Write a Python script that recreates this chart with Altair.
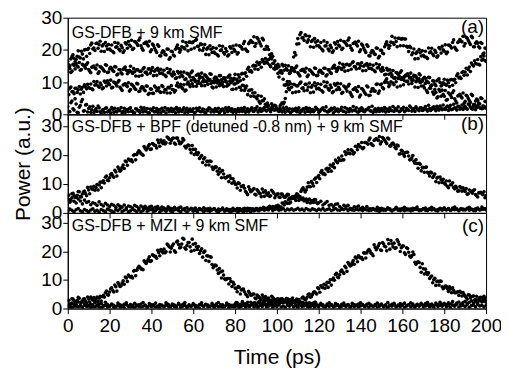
import altair as alt
import pandas as pd

FONT = "Liberation Sans"

# sampling grid (ps)
T = list(range(201))

# ---------- panel (a): GS-DFB + 9 km SMF ----------
A1 = [16.4, 15.1, 17.9, 17.4, 17.0, 19.7, 17.5, 18.7, 20.0, 18.0,
      20.5, 21.5, 20.3, 19.8, 22.1, 21.6, 19.6, 21.7, 22.3, 20.2,
      20.3, 21.5, 19.1, 20.8, 22.1, 19.7, 20.7, 19.7, 21.8, 22.6,
      21.1, 20.1, 22.6, 22.0, 23.0, 21.3, 19.9, 22.2, 21.7, 22.7,
      20.0, 21.4, 19.9, 21.6, 18.2, 19.1, 19.5, 18.4, 20.2, 17.6,
      19.4, 18.1, 20.9, 20.4, 20.0, 22.7, 20.3, 21.3, 22.4, 20.2,
      22.5, 22.9, 21.1, 20.0, 21.7, 20.6, 18.6, 20.7, 21.3, 19.2,
      19.3, 20.5, 18.1, 19.8, 21.1, 18.7, 19.6, 18.5, 20.5, 21.2,
      19.6, 18.7, 21.3, 20.8, 21.9, 20.3, 19.5, 22.4, 22.5, 24.1,
      22.0, 23.4, 21.9, 23.6, 20.2, 21.1, 20.1, 17.6, 18.0, 14.0,
      14.4, 11.6, 12.9, 10.9, 9.0, 10.2, 7.6, 8.4, 9.3, 6.9,
      8.9, 9.6, 8.1, 7.3, 9.3, 8.5, 6.7, 9.0, 9.8, 7.9,
      8.1, 9.3, 6.9, 8.6, 9.9, 7.5, 8.3, 7.1, 9.0, 9.6,
      7.7, 6.5, 8.8, 8.0, 8.7, 6.8, 5.5, 7.9, 7.5, 8.6,
      6.0, 7.8, 6.7, 8.8, 5.8, 7.1, 7.9, 7.2, 9.4, 7.2,
      9.4, 7.9, 10.5, 9.8, 9.2, 11.7, 9.2, 10.1, 11.1, 8.8,
      11.0, 11.7, 10.2, 9.4, 11.4, 10.6, 8.5, 10.5, 11.0, 8.8,
      8.8, 9.6, 6.8, 8.1, 9.0, 6.2, 6.8, 5.4, 7.1, 7.5,
      5.6, 4.4, 6.7, 5.9, 6.7, 4.8, 3.5, 5.9, 5.5, 6.6,
      4.0, 5.6, 4.3, 6.2, 3.0, 4.1, 4.4, 3.2, 4.9, 2.2,
      3.9]
A1B = [15.4, 17.2, 18.5, 16.3, 18.0, 17.8, 19.6, 17.2, 20.1, 20.1,
       18.9, 22.1, 20.6, 22.0, 20.5, 22.7, 21.2, 19.5, 21.2, 21.7,
       19.9, 19.5, 22.3, 21.0, 20.2, 21.4, 19.2, 22.2, 20.5, 21.5,
       23.0, 20.5, 22.4, 21.4, 23.7, 20.5, 22.0, 22.4, 21.2, 19.4,
       21.8, 20.6, 19.2, 21.1, 18.1, 19.7, 18.6, 20.3, 17.1, 19.6,
       18.4, 20.2, 21.5, 19.3, 21.0, 20.7, 22.3, 19.7, 22.4, 22.2,
       20.6, 23.2, 21.1, 21.9, 19.8, 21.7, 20.2, 18.5, 20.2, 20.7,
       18.9, 18.5, 21.3, 20.0, 19.2, 20.4, 18.1, 21.0, 19.2, 20.1,
       21.5, 19.1, 21.1, 20.2, 22.6, 19.8, 21.9, 22.9, 22.3, 21.1,
       23.8, 22.6, 21.2, 23.1, 20.1, 21.0, 18.5, 18.8, 14.2, 15.1,
       12.7, 13.0, 12.8, 9.1, 9.3, 8.1, 9.5, 6.7, 9.2, 8.8,
       7.1, 10.0, 8.2, 9.3, 7.5, 9.7, 8.4, 6.9, 8.8, 9.5,
       7.7, 7.3, 10.1, 8.8, 8.0, 9.1, 6.7, 9.5, 7.6, 8.4,
       9.5, 6.8, 8.5, 7.2, 9.3, 6.1, 7.7, 8.2, 7.1, 5.4,
       8.0, 7.2, 6.2, 8.5, 5.9, 7.9, 7.2, 9.3, 6.5, 9.2,
       8.3, 9.9, 11.0, 8.6, 10.1, 9.7, 11.2, 8.5, 11.1, 10.8,
       9.2, 12.1, 10.3, 11.4, 9.6, 11.7, 10.1, 8.3, 9.9, 10.3,
       8.2, 7.4, 9.8, 8.1, 6.9, 7.7, 5.1, 7.7, 5.6, 6.2,
       7.4, 4.6, 6.4, 5.2, 7.3, 4.1, 5.7, 6.2, 5.1, 3.4,
       5.9, 4.9, 3.7, 5.8, 3.0, 4.7, 3.5, 5.1, 1.8, 4.0]
A2 = [13.4, 14.2, 13.4, 15.2, 15.8, 14.7, 13.7, 15.5, 14.9, 15.5,
      13.9, 12.9, 14.8, 14.4, 15.3, 13.2, 14.6, 13.8, 15.4, 13.0,
      14.1, 14.3, 13.3, 14.7, 12.5, 13.8, 12.5, 14.4, 13.7, 13.0,
      14.9, 12.7, 13.2, 13.8, 11.8, 13.4, 14.1, 13.0, 12.4, 14.1,
      13.6, 12.0, 13.8, 14.3, 12.7, 12.8, 13.7, 11.7, 12.9, 13.9,
      11.9, 12.4, 11.3, 12.8, 13.1, 11.7, 10.8, 12.7, 12.2, 12.9,
      11.4, 10.4, 12.3, 11.9, 12.8, 10.7, 12.0, 11.1, 12.6, 10.1,
      11.1, 11.4, 10.5, 12.0, 9.9, 11.3, 10.0, 11.9, 11.2, 10.5,
      12.4, 10.6, 11.5, 12.5, 10.9, 12.9, 14.0, 13.3, 13.1, 15.2,
      15.1, 13.9, 16.1, 17.0, 15.8, 16.3, 17.0, 14.8, 15.8, 16.6,
      14.4, 14.8, 13.6, 15.0, 15.2, 13.7, 12.7, 14.5, 13.9, 14.5,
      12.9, 11.9, 13.8, 13.4, 14.3, 12.2, 13.6, 12.8, 14.4, 12.0,
      13.1, 13.5, 12.7, 14.3, 12.3, 13.8, 12.7, 14.8, 14.3, 13.8,
      15.9, 13.9, 14.6, 15.4, 13.6, 15.4, 16.0, 14.8, 14.1, 15.7,
      15.1, 13.5, 15.3, 15.8, 14.2, 14.3, 15.2, 13.2, 14.4, 15.4,
      13.4, 13.7, 12.4, 13.7, 13.8, 12.2, 11.2, 13.0, 12.4, 13.0,
      11.4, 10.4, 12.3, 11.9, 12.8, 10.7, 12.0, 11.1, 12.6, 10.1,
      11.1, 11.2, 10.1, 11.4, 9.1, 10.3, 8.9, 10.7, 9.9, 9.1,
      10.9, 9.0, 9.8, 10.7, 9.0, 10.9, 12.0, 11.3, 11.1, 13.2,
      13.1, 12.2, 14.7, 15.9, 15.0, 15.8, 17.0, 15.3, 16.8, 18.1,
      16.4]
A2B = [14.7, 13.0, 15.5, 14.1, 15.0, 16.1, 13.9, 15.3, 14.3, 16.0,
       13.4, 14.6, 15.0, 14.1, 12.7, 14.8, 14.2, 13.4, 15.2, 13.1,
       14.6, 13.6, 14.8, 12.2, 13.9, 12.9, 14.0, 14.7, 12.6, 13.7,
       13.2, 14.2, 11.9, 13.8, 13.3, 12.1, 14.5, 13.1, 14.1, 12.8,
       14.5, 13.4, 12.1, 13.5, 14.0, 12.5, 12.1, 14.2, 13.1, 12.4,
       13.1, 11.1, 13.3, 11.6, 12.2, 13.1, 11.0, 12.5, 11.6, 13.4,
       10.9, 12.1, 12.5, 11.6, 10.2, 12.3, 11.6, 10.7, 12.4, 10.2,
       11.6, 10.7, 12.0, 9.5, 11.3, 10.4, 11.5, 12.2, 10.1, 11.2,
       10.9, 12.3, 10.4, 12.7, 12.6, 11.8, 14.6, 13.6, 15.0, 14.1,
       16.2, 15.5, 14.6, 16.4, 17.3, 15.9, 15.3, 17.2, 15.9, 15.0,
       15.5, 13.4, 15.5, 13.7, 14.2, 15.1, 12.9, 14.3, 13.3, 15.0,
       12.4, 13.6, 14.0, 13.1, 11.7, 13.8, 13.2, 12.4, 14.2, 12.1,
       13.7, 12.9, 14.3, 11.9, 13.8, 13.0, 14.3, 15.2, 13.3, 14.6,
       14.3, 15.5, 13.4, 15.5, 15.2, 14.0, 16.3, 14.8, 15.7, 14.3,
       16.0, 14.9, 13.6, 15.0, 15.5, 14.0, 13.6, 15.7, 14.6, 13.9,
       14.5, 12.3, 14.3, 12.4, 12.8, 13.6, 11.4, 12.8, 11.8, 13.5,
       11.2, 11.9, 12.6, 11.3, 10.5, 12.1, 11.8, 10.4, 12.2, 10.6,
       11.5, 10.4, 11.5, 8.8, 10.4, 9.4, 10.4, 11.0, 8.8, 9.8,
       9.3, 10.6, 8.6, 10.8, 10.6, 9.8, 12.6, 11.6, 13.0, 12.1,
       14.3, 13.9, 13.3, 15.4, 16.6, 15.6, 15.5, 17.9, 17.1, 16.7]
A3 = [7.4, 8.1, 7.0, 6.4, 8.1, 7.6, 6.3, 8.4, 9.2, 7.9,
      8.3, 9.4, 7.6, 9.0, 10.2, 8.4, 9.1, 8.2, 9.9, 10.4,
      9.2, 8.2, 10.0, 9.4, 10.0, 8.4, 7.4, 9.3, 8.9, 9.8,
      7.7, 9.0, 8.1, 9.6, 7.1, 8.1, 8.3, 7.3, 8.7, 6.5,
      7.8, 6.5, 8.4, 7.7, 7.0, 8.9, 6.9, 7.6, 8.4, 6.6,
      7.7, 6.9, 8.9, 8.5, 9.3, 7.9, 7.2, 9.4, 9.3, 10.5,
      8.7, 10.2, 9.5, 11.2, 8.9, 10.1, 10.3, 9.3, 10.7, 8.5,
      9.8, 8.5, 10.4, 9.7, 9.0, 10.9, 8.7, 9.2, 9.8, 7.8,
      9.4, 9.8, 8.4, 7.5, 8.9, 8.1, 6.1, 7.5, 7.6, 5.6,
      5.3, 5.8, 3.4, 4.2, 4.8, 2.4, 2.7, 1.4, 2.7, 2.8,
      1.6, 0.9, 1.2, 2.0, 0.6, 1.4, 1.7, 0.8, 1.1, 1.9,
      1.3, 0.5, 1.0, 1.6, 2.1, 0.9, 0.7, 1.5, 1.2, 1.8,
      0.6, 1.4, 2.0, 1.1, 0.8, 1.3, 1.9, 0.5, 1.0, 1.6,
      1.2, 2.2, 0.9, 0.6, 1.5, 1.8, 1.0, 1.3, 2.0, 0.7,
      1.1, 1.6, 0.8, 1.4, 2.1, 1.0, 0.6, 1.7, 1.3, 0.9,
      1.8, 1.2, 0.7, 1.5, 2.0, 1.1, 0.9, 1.6, 2.3, 1.0,
      1.4, 0.8, 1.9, 1.2, 2.2, 1.5, 0.9, 1.7, 1.1, 2.0,
      1.3, 2.4, 1.0, 1.8, 1.5, 2.3, 1.1, 1.9, 2.6, 1.4,
      1.7, 2.2, 1.2, 2.8, 1.6, 2.0, 1.3, 2.5, 1.9, 1.5,
      2.4, 1.6, 2.9, 1.8, 2.2, 1.4, 2.7, 2.0, 1.7, 2.5,
      1.9]
A3B = [6.1, 8.5, 7.1, 8.1, 6.8, 8.6, 7.8, 6.8, 8.5, 9.3,
       8.1, 7.9, 10.2, 9.3, 8.8, 9.7, 7.9, 10.3, 8.8, 9.6,
       10.6, 8.4, 9.8, 8.8, 10.5, 7.9, 9.1, 9.5, 8.6, 7.2,
       9.3, 8.6, 7.7, 9.4, 7.2, 8.6, 7.6, 8.8, 6.2, 7.9,
       6.5, 8.8, 7.3, 8.2, 6.8, 8.6, 7.7, 6.6, 8.2, 8.9,
       7.6, 7.4, 9.7, 8.8, 8.3, 9.2, 7.5, 10.0, 8.6, 9.5,
       10.7, 8.7, 10.3, 9.5, 11.4, 8.9, 10.1, 10.5, 9.6, 8.2,
       10.3, 9.7, 8.9, 10.7, 8.6, 10.1, 9.1, 10.3, 7.7, 9.4,
       7.9, 10.0, 8.3, 9.0, 7.4, 8.8, 7.3, 5.6, 6.6, 6.7,
       4.8, 4.0, 5.6, 4.2, 3.1, 3.5, 1.3, 3.3, 1.4, 1.8,
       1.1, 1.8, 0.7, 1.4, 2.2, 1.0, 0.5, 1.6, 1.3, 0.8,
       2.0, 1.2, 1.7, 0.6, 1.4, 1.9, 1.1, 0.8, 2.2, 1.5,
       0.9, 1.7, 1.3, 2.3, 0.7, 1.1, 1.6, 2.0, 1.2, 0.8,
       1.5, 1.0, 2.1, 1.7, 0.8, 1.3, 2.4, 1.1, 0.7, 1.6,
       2.0, 0.9, 1.4, 1.8, 1.1, 2.5, 1.3, 0.8, 1.9, 1.5,
       1.0, 2.1, 1.6, 0.9, 1.3, 2.4, 1.8, 1.2, 0.8, 1.7,
       2.2, 1.1, 1.5, 2.6, 1.0, 1.8, 2.3, 1.4, 2.0, 1.2,
       1.9, 1.5, 2.8, 1.2, 2.1, 1.6, 2.5, 1.3, 2.0, 2.9,
       1.5, 2.6, 2.0, 1.4, 3.1, 1.8, 2.4, 1.6, 2.9, 2.2,
       1.8, 3.2, 2.3, 1.6, 2.8, 2.1, 3.4, 1.9, 2.6, 2.2]
A4 = [2.4, 0.8, 4.1, 1.3, 3.2, 0.5, 2.7, 4.6, 1.1, 3.0,
      1.8, 0.6, 2.5, 1.2, 0.9, 2.0, 0.4, 1.5, 1.9, 0.7,
      1.3, 2.1, 0.6, 0.9, 1.7, 1.1, 0.4, 1.9, 1.4, 0.8,
      2.0, 1.0, 0.5, 1.6, 1.2, 2.2, 0.7, 1.1, 1.8, 0.5,
      1.4, 2.0, 0.9, 0.6, 1.5, 1.9, 1.0, 0.4, 1.7, 1.2,
      0.8, 1.6, 2.1, 0.7, 1.1, 1.4, 0.5, 1.9, 1.2, 0.9,
      1.7, 0.6, 1.3, 2.0, 0.9, 1.5, 0.4, 1.1, 1.8, 1.3,
      0.7, 1.2, 1.9, 0.9, 1.6, 0.5, 1.4, 2.1, 1.0, 0.6,
      1.5, 1.1, 0.8, 1.9, 1.3, 0.6, 1.7, 1.2, 2.0, 0.9,
      1.4, 0.7, 1.8, 1.1, 2.2, 1.0, 1.5, 0.8, 1.9, 1.3,
      1.9, 1.2, 3.1, 3.2, 4.9, 9.2, 10.1, 13.9, 17.8, 18.4,
      23.5, 24.7, 23.7, 22.9, 24.4, 23.1, 21.0, 23.0, 23.5, 21.3,
      21.3, 22.3, 19.7, 21.2, 22.3, 19.7, 20.7, 19.7, 21.8, 22.6,
      21.1, 20.1, 22.6, 22.0, 23.0, 21.3, 19.9, 22.2, 21.7, 22.7,
      20.0, 21.4, 19.9, 21.6, 18.2, 19.1, 19.6, 18.6, 20.5, 18.0,
      19.9, 18.8, 21.8, 21.5, 21.3, 24.2, 21.7, 22.6, 23.6, 21.3,
      23.5, 23.4, 21.1, 19.5, 20.7, 19.1, 17.2, 19.4, 20.1, 18.1,
      18.3, 19.6, 17.3, 19.1, 20.5, 18.2, 19.2, 18.2, 20.3, 21.1,
      19.6, 18.8, 21.5, 21.1, 22.3, 20.8, 19.9, 22.7, 22.7, 24.2,
      22.0, 23.6, 22.3, 24.2, 21.0, 22.1, 22.1, 20.6, 22.0, 19.0,
      20.4]
A4B = [0.9, 3.6, 1.7, 4.8, 0.6, 2.2, 3.9, 1.0, 2.9, 0.7,
       2.3, 1.4, 0.5, 1.8, 2.6, 0.8, 1.3, 0.6, 2.0, 1.1,
       0.5, 1.6, 1.9, 0.7, 1.2, 2.1, 0.9, 0.6, 1.5, 1.8,
       0.9, 0.4, 1.7, 1.1, 0.6, 1.4, 2.0, 0.8, 0.5, 1.6,
       1.1, 0.7, 1.8, 1.3, 0.5, 1.0, 2.1, 1.4, 0.8, 1.9,
       1.2, 0.5, 1.4, 1.8, 0.9, 2.0, 1.3, 0.6, 1.6, 1.0,
       0.5, 1.9, 1.1, 0.8, 1.6, 0.6, 1.4, 2.0, 0.7, 1.2,
       1.8, 0.9, 0.5, 1.5, 1.1, 2.0, 0.8, 1.3, 1.7, 1.0,
       0.6, 1.8, 1.4, 0.9, 2.1, 1.2, 0.7, 1.6, 1.0, 1.8,
       2.3, 1.2, 0.9, 1.7, 1.3, 2.4, 1.6, 2.1, 1.4, 2.6,
       1.4, 2.6, 3.6, 3.7, 7.0, 9.1, 13.5, 13.7, 19.2, 21.8,
       21.9, 25.4, 23.8, 24.7, 22.4, 24.2, 22.6, 20.8, 22.4, 22.8,
       20.8, 20.2, 22.8, 21.3, 20.3, 21.4, 19.2, 22.2, 20.5, 21.5,
       23.0, 20.5, 22.4, 21.4, 23.7, 20.5, 22.0, 22.4, 21.2, 19.4,
       21.8, 20.6, 19.2, 21.1, 18.1, 19.8, 18.8, 20.6, 17.5, 19.9,
       19.0, 21.0, 22.5, 20.5, 22.4, 22.2, 23.7, 21.0, 23.6, 23.3,
       21.3, 23.4, 20.8, 21.1, 18.5, 20.3, 18.9, 17.3, 19.1, 19.7,
       17.9, 17.7, 20.6, 19.4, 18.7, 19.9, 17.7, 20.7, 19.0, 20.0,
       21.6, 19.3, 21.4, 20.6, 23.1, 20.3, 22.3, 23.2, 22.5, 21.2,
       23.9, 22.9, 21.7, 23.8, 21.0, 22.5, 21.0, 22.3, 18.7, 20.6]

# ---------- panel (b): GS-DFB + BPF + 9 km SMF ----------
B1 = [5.8, 4.6, 6.6, 6.0, 5.4, 7.4, 5.6, 6.5, 7.5, 5.9,
      7.9, 8.9, 8.1, 7.8, 9.8, 9.6, 8.7, 11.1, 12.3, 11.3,
      12.1, 13.6, 12.3, 14.1, 15.8, 14.4, 15.7, 15.3, 17.6, 18.6,
      18.0, 17.6, 20.1, 20.1, 21.4, 20.4, 19.9, 22.2, 22.3, 23.6,
      22.0, 23.7, 23.2, 25.1, 23.0, 24.4, 24.9, 24.2, 25.9, 24.0,
      25.6, 24.1, 25.8, 24.8, 23.9, 25.6, 23.0, 23.0, 23.2, 20.7,
      21.9, 21.9, 20.1, 18.8, 19.8, 18.6, 16.5, 17.8, 17.9, 15.8,
      15.4, 15.8, 13.3, 14.1, 14.6, 12.2, 12.3, 10.8, 11.9, 11.8,
      10.0, 8.6, 10.1, 9.1, 9.4, 7.4, 6.3, 8.1, 7.6, 8.4,
      6.2, 7.5, 6.6, 8.2, 5.7, 6.7, 6.9, 5.9, 7.4, 5.2,
      6.4, 5.5, 6.5, 5.9, 5.4, 6.4, 5.1, 5.3, 5.6, 4.3,
      5.2, 5.5, 4.6, 4.1, 4.8, 4.4, 3.4, 4.3, 4.6, 3.5,
      3.5, 4.0, 2.7, 3.3, 3.9, 2.6, 2.9, 2.2, 3.0, 3.1,
      2.2, 1.6, 2.6, 2.3, 2.6, 1.6, 1.0, 2.1, 1.9, 2.4,
      1.1, 1.9, 1.4, 2.2, 0.8, 1.4, 1.5, 1.0, 1.9, 0.6,
      1.6, 0.9, 1.2, 1.8, 1.4, 0.7, 1.1, 1.9, 1.3, 0.8,
      1.5, 1.9, 1.0, 1.3, 0.7, 1.6, 1.2, 2.0, 1.1, 0.9,
      1.4, 1.7, 0.8, 1.2, 1.9, 1.5, 1.0, 0.7, 1.6, 1.3,
      1.8, 1.1, 1.4, 0.9, 1.7, 2.0, 1.2, 0.8, 1.5, 1.3,
      1.0, 1.6, 1.9, 1.2, 0.8, 1.4, 1.7, 1.1, 2.0, 1.3,
      1.5]
B1B = [6.2, 4.4, 6.8, 5.3, 6.1, 7.3, 5.5, 7.3, 6.7, 8.8,
       6.6, 8.3, 9.2, 8.8, 7.9, 10.6, 10.6, 10.3, 12.7, 11.1,
       13.2, 12.8, 14.7, 12.7, 15.1, 14.8, 16.5, 17.9, 16.4, 18.2,
       18.3, 19.9, 18.3, 20.8, 21.0, 20.2, 22.9, 21.7, 23.0, 21.9,
       23.9, 23.3, 22.4, 24.2, 25.1, 23.9, 23.8, 26.2, 25.4, 25.0,
       25.8, 23.7, 25.8, 23.9, 24.4, 25.1, 22.4, 23.4, 21.9, 23.2,
       20.1, 20.8, 20.7, 19.3, 17.4, 19.0, 17.8, 16.5, 17.7, 15.0,
       15.9, 14.4, 15.2, 12.1, 13.4, 12.0, 12.6, 12.8, 10.2, 10.8,
       9.8, 10.4, 7.8, 9.3, 8.5, 6.9, 9.0, 7.3, 8.0, 6.4,
       8.0, 6.9, 5.6, 7.1, 7.6, 6.1, 5.7, 7.8, 6.8, 6.1,
       6.6, 5.3, 6.5, 5.4, 5.8, 6.3, 4.9, 5.6, 5.0, 5.9,
       4.3, 4.9, 5.1, 4.4, 3.6, 4.8, 4.2, 3.6, 4.5, 3.2]
B2 = [0.6, 1.3, 0.9, 0.4, 1.1, 1.5, 0.7, 0.5, 1.2, 0.8,
      0.4, 1.0, 1.4, 0.6, 0.9, 0.3, 1.2, 0.8, 0.5, 1.3,
      1.0, 0.6, 0.3, 1.1, 0.8, 1.4, 0.5, 0.9, 1.2, 0.4,
      0.7, 1.3, 0.9, 0.5, 1.1, 0.4, 0.8, 1.5, 0.6, 1.0,
      1.2, 0.5, 0.8, 1.4, 0.3, 0.9, 1.1, 0.6, 1.3, 0.7,
      0.4, 1.0, 1.3, 0.8, 0.5, 1.2, 0.9, 0.3, 1.1, 1.4,
      0.6, 0.9, 0.4, 1.2, 1.0, 0.5, 1.3, 0.8, 0.6, 1.1,
      1.4, 0.7, 0.5, 1.0, 1.3, 0.6, 0.9, 1.2, 0.4, 0.8,
      1.1, 0.6, 1.4, 0.9, 0.5, 1.2, 0.8, 1.5, 1.0, 0.7,
      1.3, 1.0, 1.6, 1.2, 1.8, 1.4, 1.9, 1.6, 2.2, 1.8,
      1.6, 2.3, 2.0, 3.3, 3.8, 3.3, 3.3, 4.9, 5.1, 6.0,
      6.3, 5.6, 8.1, 8.0, 7.9, 10.4, 9.0, 10.2, 11.6, 10.5,
      12.9, 14.0, 13.4, 13.2, 15.4, 15.3, 14.4, 16.9, 18.2, 17.3,
      18.1, 19.6, 18.3, 20.1, 21.8, 20.4, 21.4, 20.8, 22.8, 23.6,
      22.7, 22.1, 24.3, 24.1, 25.1, 23.9, 23.2, 25.3, 25.2, 26.3,
      24.5, 25.6, 24.5, 25.8, 23.1, 23.9, 23.6, 22.1, 23.1, 20.4,
      21.3, 19.5, 20.9, 19.6, 18.4, 19.8, 17.1, 17.0, 17.1, 14.5,
      15.6, 15.7, 14.0, 12.7, 13.8, 12.7, 10.8, 12.3, 12.4, 10.5,
      10.3, 11.0, 8.7, 9.7, 10.4, 8.3, 8.6, 7.6, 8.6, 8.7,
      7.4, 6.4, 7.9, 7.3, 7.7, 6.3, 5.5, 7.0, 6.6, 7.3,
      6.0]
B2B = [1.0, 0.5, 1.3, 0.8, 1.6, 0.7, 1.1, 0.4, 1.4, 0.9,
       1.5, 0.8, 1.2, 1.9, 1.3, 1.7, 2.3, 1.5, 1.8, 2.4,
       2.6, 1.7, 3.4, 2.7, 3.5, 4.5, 3.7, 5.1, 5.1, 6.6,
       5.7, 7.4, 8.7, 7.2, 8.9, 9.1, 10.8, 9.3, 12.0, 12.4,
       11.8, 14.6, 13.7, 15.1, 14.3, 16.5, 16.1, 15.6, 17.7, 18.9,
       18.1, 18.3, 21.1, 20.6, 20.6, 21.8, 20.3, 23.0, 21.8, 22.9,
       24.3, 22.5, 24.3, 23.7, 25.8, 23.5, 25.0, 25.6, 25.0, 23.8,
       26.0, 25.1, 23.9, 25.5, 23.1, 24.1, 22.6, 23.4, 20.3, 21.6,
       20.2, 20.8, 20.9, 18.3, 18.9, 17.8, 18.3, 15.4, 16.8, 15.7,
       14.0, 15.8, 13.7, 14.1, 12.2, 13.4, 12.0, 10.4, 11.4, 11.6,
       9.9, 9.2, 11.0, 9.7, 8.8, 9.2, 7.5, 9.1, 7.5, 7.8,
       8.4, 6.6, 7.6, 6.8, 8.0, 5.9, 6.9, 7.1, 6.3, 5.2]
B3 = [4.6, 3.7, 5.2, 4.0, 3.4, 4.8, 4.1, 3.1, 4.4, 3.6,
      3.9, 2.8, 3.5, 3.2, 2.6, 3.8, 2.9, 2.4, 3.3, 2.7,
      2.2, 3.0, 2.6, 1.9, 2.8, 2.3, 2.0, 2.7, 1.8, 2.4,
      2.1, 1.7, 2.6, 2.2, 1.6, 2.4, 1.9, 2.3, 1.5, 2.0,
      2.3, 1.6, 1.9, 2.2, 1.4, 2.0, 1.7, 1.3, 2.1, 1.6,
      1.4, 1.9, 1.2, 1.7, 2.0, 1.3, 1.5, 1.8, 1.1, 1.6,
      1.3, 1.7, 1.0, 1.5, 1.2, 1.8, 0.9, 1.4, 1.6, 1.1,
      1.5, 0.8, 1.3, 1.1, 1.7, 1.0, 1.4, 0.7, 1.2, 1.6,
      0.9, 1.5, 1.2, 0.8, 1.4, 1.0, 1.6, 0.9, 1.3, 1.1,
      1.5, 0.8, 1.2, 1.4, 0.9, 1.3, 1.0, 1.6, 0.8, 1.2,
      1.4, 0.9, 1.1, 1.5, 0.8, 1.3, 1.0, 1.4, 0.9, 1.2,
      1.6, 1.0, 1.3, 0.8, 1.5, 1.1, 0.9, 1.4, 1.2, 0.8,
      1.3, 1.0, 1.5, 0.9, 1.2, 1.4, 0.8, 1.1, 1.5, 1.0,
      0.9, 1.3, 1.1, 1.6, 0.8, 1.2, 1.4, 0.9, 1.3, 1.0,
      1.5, 0.8, 1.2, 1.0, 1.4, 0.9, 1.3, 1.1, 0.8, 1.5,
      1.0, 1.3, 0.9, 1.4, 1.1, 0.8, 1.2, 1.6, 0.9, 1.3,
      1.1, 0.8, 1.4, 1.0, 1.3, 0.9, 1.5, 1.2, 0.8, 1.1,
      1.4, 0.9, 1.2, 1.5, 1.0, 1.3, 0.8, 1.2, 1.4, 0.9,
      1.3, 1.0, 1.5, 0.9, 1.2, 1.1, 1.4, 0.8, 1.3, 1.0,
      1.2, 1.5, 0.9, 1.3, 1.1, 0.8, 1.4, 1.0, 1.2, 1.5,
      1.0]

# ---------- panel (c): GS-DFB + MZI + 9 km SMF ----------
C1 = [2.8, 1.6, 3.4, 2.8, 2.2, 3.9, 2.2, 2.7, 3.4, 1.8,
      3.3, 4.0, 3.0, 2.5, 4.0, 3.6, 2.6, 4.6, 5.5, 4.8,
      5.8, 7.3, 5.8, 7.6, 9.1, 7.7, 8.9, 8.5, 10.7, 11.7,
      11.0, 10.7, 13.3, 13.4, 14.8, 13.9, 13.6, 16.2, 16.5, 18.1,
      16.7, 18.6, 18.3, 20.4, 18.5, 20.1, 20.8, 19.9, 22.2, 19.8,
      22.0, 20.2, 23.3, 22.4, 21.5, 24.6, 21.3, 22.1, 23.1, 20.1,
      22.5, 22.8, 20.7, 19.3, 20.9, 19.6, 16.8, 18.4, 18.2, 15.4,
      14.8, 15.0, 12.3, 12.8, 13.1, 10.4, 10.3, 8.6, 9.5, 9.2,
      7.2, 5.9, 7.4, 6.5, 6.8, 5.1, 4.1, 5.3, 4.7, 5.1,
      3.4, 4.3, 3.7, 4.7, 2.9, 3.6, 3.7, 2.9, 3.9, 2.3,
      3.2, 2.3, 3.3, 2.8, 2.3, 3.3, 2.0, 2.2, 2.6, 1.3,
      2.2, 2.5, 1.7, 1.2, 2.0, 1.6, 0.7, 1.8, 2.2, 1.3,
      1.1, 1.8, 1.3, 0.8, 1.6, 2.0, 1.2, 0.9, 1.7, 1.4,
      0.8, 1.5, 1.9, 1.1, 1.4, 0.7, 1.8, 1.3, 1.0, 1.6,
      2.0, 1.2, 0.9, 1.5, 1.8, 1.1, 0.7, 1.4, 1.9, 1.2,
      1.6, 0.9, 1.3, 2.1, 1.0, 1.5, 1.8, 0.8, 1.2, 1.7,
      1.4, 1.9, 1.0, 1.3, 2.0, 1.6, 0.9, 1.5, 1.2, 1.8,
      1.1, 1.7, 2.1, 1.3, 1.6, 1.0, 1.9, 1.4, 2.2, 1.5,
      1.8, 1.3, 2.0, 1.6, 2.4, 1.2, 1.9, 2.3, 1.5, 2.1,
      2.5, 1.8, 2.2, 2.7, 1.9, 2.4, 2.0, 2.8, 2.3, 2.6,
      2.2]
C1B = [2.9, 1.7, 3.3, 2.3, 2.8, 3.6, 2.1, 3.3, 2.6, 4.0,
       2.3, 3.3, 3.8, 3.3, 2.5, 4.3, 4.1, 4.0, 6.1, 4.7,
       6.9, 6.4, 8.2, 6.1, 8.4, 8.0, 9.7, 11.0, 9.5, 11.2,
       11.3, 13.1, 11.5, 14.2, 14.4, 13.8, 16.7, 15.8, 17.3, 16.5,
       18.8, 18.3, 17.6, 19.6, 20.7, 19.5, 19.5, 22.6, 21.6, 21.1,
       22.6, 19.7, 23.6, 21.2, 22.6, 24.3, 20.8, 23.1, 21.6, 24.3,
       20.4, 21.6, 21.7, 20.2, 18.0, 20.1, 18.5, 16.5, 18.0, 14.3,
       15.2, 13.5, 14.0, 10.7, 11.7, 10.1, 10.5, 10.5, 7.7, 8.5,
       7.0, 7.7, 5.1, 6.7, 5.9, 4.7, 6.0, 4.7, 5.0, 3.7,
       4.7, 3.9, 3.0, 3.9, 4.2, 3.1, 2.8, 4.3, 3.5, 3.0,
       3.4, 2.1, 3.4, 2.3, 2.7, 3.2, 1.8, 2.6, 2.0, 2.9,
       1.3, 2.0, 2.2, 1.6, 0.8, 2.0, 1.6, 1.1, 2.2, 1.0]
C2 = [1.2, 0.6, 1.9, 1.4, 0.8, 2.3, 1.1, 0.5, 1.7, 2.0,
      0.9, 1.5, 0.7, 2.1, 1.3, 0.6, 1.8, 1.0, 2.2, 1.4,
      0.8, 1.6, 1.1, 0.5, 1.9, 1.3, 0.7, 1.5, 2.0, 0.9,
      1.4, 0.6, 1.8, 1.2, 0.8, 1.6, 2.1, 1.0, 0.5, 1.7,
      1.3, 0.9, 1.9, 0.6, 1.4, 1.1, 0.7, 2.0, 1.5, 0.8,
      1.6, 1.2, 0.5, 1.8, 1.0, 1.5, 2.1, 0.7, 1.3, 0.9,
      1.7, 1.1, 0.6, 1.4, 2.0, 0.9, 1.5, 1.2, 0.7, 1.8,
      1.0, 1.6, 2.1, 0.8, 1.3, 0.6, 1.9, 1.4, 1.1, 0.7,
      1.5, 2.0, 1.2, 0.9, 1.7, 1.3, 2.2, 1.0, 1.6, 1.9,
      1.3, 2.1, 1.7, 1.1, 2.4, 1.5, 1.9, 2.6, 1.4, 2.0,
      2.3, 1.7, 2.5, 2.0, 2.8, 1.9, 2.6, 3.0, 2.2, 2.7,
      2.7, 2.1, 3.7, 3.5, 3.3, 5.0, 4.0, 4.9, 5.9, 5.1,
      6.9, 8.0, 7.3, 7.1, 9.2, 9.1, 8.2, 10.7, 11.9, 11.0,
      11.8, 13.5, 12.3, 14.3, 16.1, 14.9, 16.0, 15.5, 17.6, 18.5,
      17.7, 17.2, 19.4, 19.5, 20.7, 19.4, 18.5, 21.4, 21.3, 22.8,
      20.3, 22.6, 21.6, 24.2, 20.8, 22.7, 22.9, 21.3, 23.4, 20.0,
      21.9, 19.5, 21.3, 19.7, 18.0, 19.8, 16.2, 16.1, 16.1, 12.7,
      13.9, 13.8, 11.9, 10.5, 11.4, 10.1, 8.1, 9.5, 9.6, 7.6,
      7.3, 7.8, 6.0, 6.8, 7.3, 5.5, 5.7, 4.6, 5.6, 5.6,
      4.3, 3.3, 4.7, 4.1, 4.4, 3.1, 2.5, 3.8, 3.7, 4.3,
      3.2]
C2B = [2.1, 0.8, 1.5, 2.4, 1.1, 1.7, 0.9, 2.2, 1.4, 2.0,
       1.0, 2.5, 1.6, 2.1, 1.3, 2.8, 1.8, 2.3, 2.9, 1.7,
       2.6, 3.2, 2.1, 2.9, 3.5, 2.4, 3.1, 3.7, 2.7, 3.3,
       3.1, 2.1, 4.0, 3.2, 4.0, 5.1, 4.1, 5.7, 5.5, 7.3,
       5.7, 7.5, 8.5, 8.2, 7.4, 10.1, 10.1, 9.9, 12.3, 10.8,
       13.0, 12.8, 14.8, 13.0, 15.5, 15.2, 16.8, 18.0, 16.4, 18.0,
       17.9, 19.5, 17.7, 20.2, 20.2, 19.1, 22.3, 20.6, 22.0, 20.5,
       23.1, 21.8, 20.2, 22.7, 23.8, 21.6, 21.0, 24.1, 22.4, 21.3,
       21.9, 18.9, 21.0, 18.4, 18.5, 18.9, 15.5, 16.4, 14.4, 15.7,
       12.1, 12.7, 12.5, 11.0, 9.0, 10.6, 9.5, 8.2, 9.5, 6.9,
       7.9, 6.9, 7.6, 5.5, 6.4, 5.5, 5.9, 6.0, 4.4, 4.9,
       3.9, 4.8, 3.7, 4.3, 3.0, 4.3, 3.3, 3.9, 2.8, 3.6]
C3 = [0.5, 1.1, 0.3, 0.8, 1.4, 0.6, 0.9, 0.2, 1.2, 0.7,
      1.0, 0.4, 1.3, 0.6, 0.9, 1.5, 0.3, 0.8, 1.1, 0.5,
      0.9, 1.3, 0.4, 0.7, 1.2, 0.5, 1.0, 0.3, 1.4, 0.8,
      0.6, 1.1, 0.4, 0.9, 1.3, 0.5, 0.8, 1.2, 0.3, 1.0,
      0.7, 1.4, 0.5, 0.9, 0.3, 1.1, 0.6, 1.3, 0.8, 0.4,
      1.2, 0.6, 0.9, 1.5, 0.4, 0.8, 1.1, 0.3, 1.0, 0.7,
      1.3, 0.5, 0.9, 0.2, 1.2, 0.7, 1.4, 0.6, 0.8, 1.1,
      0.4, 1.0, 0.7, 1.3, 0.5, 0.9, 1.2, 0.3, 0.8, 1.1,
      0.6, 1.4, 0.4, 0.9, 1.2, 0.5, 1.0, 0.7, 1.3, 0.6,
      0.9, 0.3, 1.1, 0.7, 1.4, 0.5, 0.8, 1.2, 0.4, 1.0,
      0.7, 1.3, 0.5, 0.9, 0.3, 1.1, 0.8, 1.4, 0.6, 1.0,
      0.4, 1.2, 0.7, 0.9, 1.5, 0.5, 0.8, 1.1, 0.3, 1.0,
      0.6, 1.3, 0.8, 0.4, 1.1, 0.7, 1.4, 0.5, 0.9, 1.2,
      0.3, 0.8, 1.1, 0.6, 1.3, 0.4, 1.0, 0.7, 1.2, 0.5,
      0.9, 1.4, 0.6, 1.0, 0.3, 1.2, 0.7, 1.1, 0.5, 0.8,
      1.3, 0.6, 0.9, 0.4, 1.1, 0.8, 1.5, 0.5, 1.0, 0.7,
      1.2, 0.4, 0.9, 1.3, 0.6, 1.0, 0.3, 1.1, 0.8, 1.4,
      0.5, 0.9, 1.2, 0.6, 1.0, 0.4, 1.3, 0.7, 1.1, 0.8,
      1.4, 0.6, 1.0, 0.3, 1.2, 0.8, 1.5, 0.5, 0.9, 1.1,
      0.7, 1.3, 0.4, 1.0, 1.2, 0.6, 1.4, 0.9, 1.1, 0.5,
      1.0]

LABELS = ["GS-DFB + 9 km SMF",
          "GS-DFB + BPF (detuned -0.8 nm) + 9 km SMF",
          "GS-DFB + MZI + 9 km SMF"]
TAGS = ["(a)", "(b)", "(c)"]
X_TICKS = [0, 20, 40, 60, 80, 100, 120, 140, 160, 180, 200]
Y_TICKS = [0, 10, 20, 30]
YMAX = [30, 34, 33.5]
HEIGHTS = [97, 99, 96]
WIDTH = 420
LABEL_Y = [7, 5, 5]
TAG_Y = [0, 1, 4]

# (values, first sample time, sub-sample offset in ps)
PANELS = [
    [(A1, 0, 0.0), (A1B, 0, 0.5), (A2, 0, 0.0), (A2B, 0, 0.5),
     (A3, 0, 0.0), (A3B, 0, 0.5), (A4, 0, 0.0), (A4B, 0, 0.5)],
    [(B1, 0, 0.0), (B1B, 0, 0.5), (B2, 0, 0.0), (B2B, 80, 0.5), (B3, 0, 0.0)],
    [(C1, 0, 0.0), (C1B, 0, 0.5), (C2, 0, 0.0), (C2B, 80, 0.5), (C3, 0, 0.0)],
]


def frame(series):
    rows = []
    for vals, start, off in series:
        for k, v in enumerate(vals):
            idx = start + k
            if idx < len(T):
                rows.append({"t": T[idx] + off, "v": v})
    return pd.DataFrame(rows)


def panel(i):
    bottom = i == 2
    middle = i == 1
    xkw = dict(values=X_TICKS, labels=bottom, tickSize=5, labelFontSize=19,
               labelPadding=3, labelFlush=False, grid=False,
               titleFontSize=21, titlePadding=11, titleFontWeight="normal")
    if bottom:
        xaxis = alt.Axis(title="Time (ps)", **xkw)
    else:
        xaxis = alt.Axis(title=None, **xkw)
    ykw = dict(values=Y_TICKS, tickSize=5, labelFontSize=19, labelPadding=1,
               grid=False, titleFontSize=21, titlePadding=7,
               titleFontWeight="normal")
    if middle:
        yaxis = alt.Axis(title="Power (a.u.)", **ykw)
    else:
        yaxis = alt.Axis(title=None, **ykw)

    pts = alt.Chart(frame(PANELS[i])).mark_circle(
        size=13, color="black", opacity=1, clip=True
    ).encode(
        x=alt.X("t:Q", scale=alt.Scale(domain=[0, 200], nice=False), axis=xaxis),
        y=alt.Y("v:Q", scale=alt.Scale(domain=[0, YMAX[i]], nice=False), axis=yaxis),
    )
    lab = alt.Chart(pd.DataFrame({"s": [LABELS[i]]})).mark_text(
        align="left", baseline="top", fontSize=16, font=FONT, color="black"
    ).encode(x=alt.value(4), y=alt.value(LABEL_Y[i]), text="s:N")
    tag = alt.Chart(pd.DataFrame({"s": [TAGS[i]]})).mark_text(
        align="right", baseline="top", fontSize=19, font=FONT, color="black"
    ).encode(x=alt.value(WIDTH - 2), y=alt.value(TAG_Y[i]), text="s:N")
    return alt.layer(pts, lab, tag).properties(width=WIDTH, height=HEIGHTS[i])


chart = alt.vconcat(panel(0), panel(1), panel(2), spacing=0, bounds="flush").properties(
    padding={"left": 4, "top": -1, "right": -2, "bottom": 0}
).configure_axis(
    labelFont=FONT, titleFont=FONT, labelColor="black", titleColor="black",
    tickColor="black", domainColor="black"
).configure_view(stroke="black", strokeWidth=1)

chart.save("out.html", embed_options={"renderer": "svg", "actions": False})
